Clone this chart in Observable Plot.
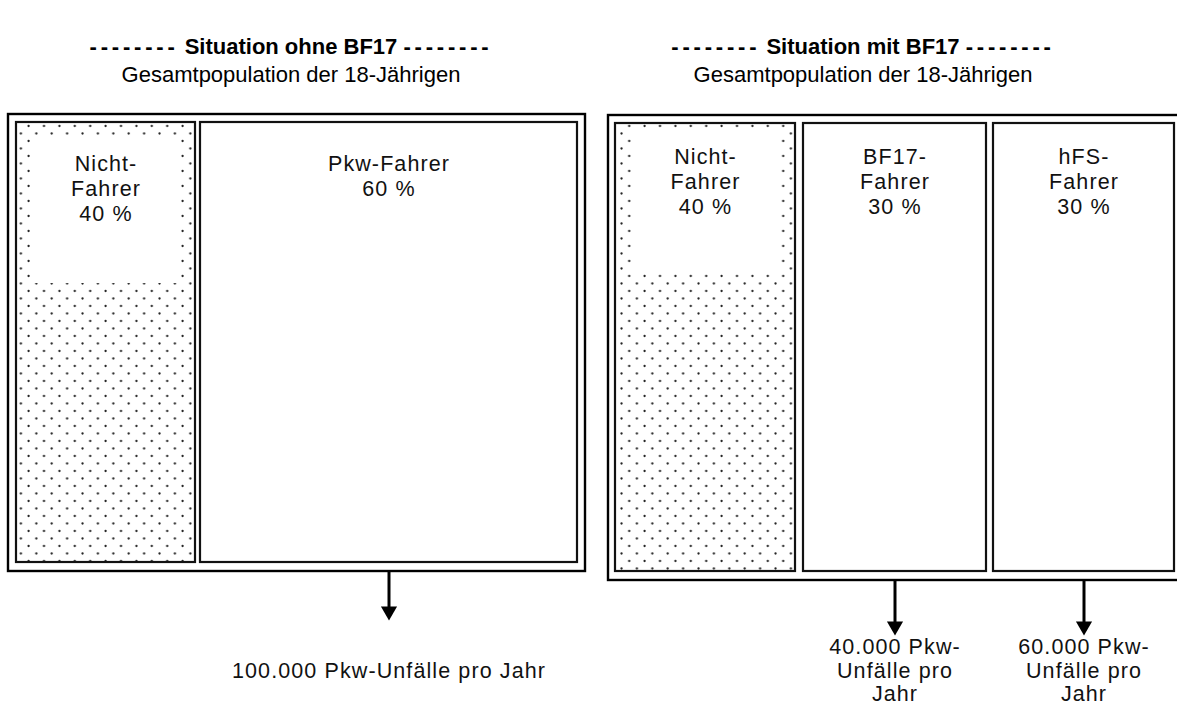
<!DOCTYPE html>
<html>
<head>
<meta charset="utf-8">
<script src="https://cdn.jsdelivr.net/npm/d3@7"></script>
<script src="https://cdn.jsdelivr.net/npm/@observablehq/plot@0.6"></script>
<style>
  html, body { margin: 0; padding: 0; background: #fff; }
  body { width: 1177px; height: 705px; overflow: hidden; font-family: "Liberation Sans", Arial, sans-serif; color: #000; }
  #head { position: relative; height: 100px; }
  .t { position: absolute; width: 560px; text-align: center; line-height: 24px; white-space: nowrap; font-size: 22px; }
  .b { font-weight: bold; }
  .dash { letter-spacing: 3.8px; }
  #chart svg { display: block; }
  #chart svg text { letter-spacing: 1.1px; }
</style>
</head>
<body>
<div id="head"></div>
<div id="chart"></div>
<script>
// ---- data ----
const panelTitles = ["Situation ohne BF17", "Situation mit BF17"];
const panelSubtitle = "Gesamtpopulation der 18-Jährigen";
const groupPanel = [0, 0, 1, 1, 1];
const groupNames = ["Nicht-\nFahrer", "Pkw-Fahrer", "Nicht-\nFahrer", "BF17-\nFahrer", "hFS-\nFahrer"];
const groupShares = [40, 60, 40, 30, 30];
const groupIsDriver = [false, true, false, true, true];
const accidentGroups = [1, 3, 4];            // index of group producing accidents
const accidentCounts = [100000, 40000, 60000];
const accidentLabelBreaks = [false, true, true];

// ---- layout (page pixel units, mapped by the plot's identity scales) ----
const panelCenter = [291, 863];
const outerBox = [{x1: 8, x2: 585, y1: 114, y2: 571}, {x1: 608, x2: 1182, y1: 115, y2: 580}];
const innerX = [[16, 195], [200, 577], [615, 795], [803, 986], [993, 1174]];
const innerY = [[122, 562], [122, 562], [123, 571], [123, 571], [123, 571]];
const clearBox = [{x1: 30, x2: 181, y1: 138, y2: 283}, null, {x1: 631, x2: 779, y1: 130, y2: 273}];
const labelTop = [152.5, 152.5, 146, 146, 146];
const arrowTip = [620, 635, 635];
const accLabelTop = [661, 637, 637];

const de = d3.formatLocale({decimal: ",", thousands: ".", grouping: [3], currency: ["", " €"]});
const fmt = de.format(",d");

// header
const head = document.getElementById("head");
panelTitles.forEach((t, i) => {
  const d1 = document.createElement("div");
  d1.className = "t b";
  d1.style.left = (panelCenter[i] - 280) + "px";
  d1.style.top = "35px";
  const s1 = document.createElement("span"); s1.className = "dash"; s1.textContent = "--------";
  const s2 = document.createElement("span"); s2.textContent = " " + t + " ";
  const s3 = document.createElement("span"); s3.className = "dash"; s3.textContent = "--------";
  d1.append(s1, s2, s3);
  head.appendChild(d1);
  const d2 = document.createElement("div");
  d2.className = "t";
  d2.style.left = (panelCenter[i] - 280) + "px";
  d2.style.top = "63px";
  d2.textContent = panelSubtitle;
  head.appendChild(d2);
});

const groups = groupNames.map((n, i) => ({
  name: n, share: groupShares[i], driver: groupIsDriver[i], panel: groupPanel[i],
  x1: innerX[i][0], x2: innerX[i][1], y1: innerY[i][0], y2: innerY[i][1],
  cx: (innerX[i][0] + innerX[i][1]) / 2, ty: labelTop[i],
  label: n + "\n" + groupShares[i] + " %"
}));
const clears = clearBox.filter(d => d);
const acc = accidentCounts.map((c, k) => {
  const g = groups[accidentGroups[k]];
  const base = outerBox[g.panel].y2 + 1;
  return {
    x: g.cx, y1: base, y2: arrowTip[k] - 11, tip: arrowTip[k], ly: accLabelTop[k],
    label: accidentLabelBreaks[k]
      ? fmt(c) + " Pkw-\nUnfälle pro\nJahr"
      : fmt(c) + " Pkw-Unfälle pro Jahr"
  };
});

const chart = Plot.plot({
  width: 1177, height: 605,
  margin: 0,
  x: {type: "linear", domain: [0, 1177], range: [0, 1177], axis: null},
  y: {type: "linear", domain: [100, 705], range: [0, 605], axis: null},
  style: {fontFamily: "'Liberation Sans', Arial, sans-serif", background: "#fff", overflow: "visible"},
  marks: [
    Plot.rect(outerBox, {x1: "x1", x2: "x2", y1: "y1", y2: "y2", fill: "white", stroke: "#000", strokeWidth: 2.4}),
    Plot.rect(groups, {x1: "x1", x2: "x2", y1: "y1", y2: "y2",
      fill: d => d.driver ? "white" : "url(#stipple)", stroke: "#111", strokeWidth: 2.2}),
    Plot.rect(clears, {x1: "x1", x2: "x2", y1: "y1", y2: "y2", fill: "white"}),
    Plot.text(groups, {x: "cx", y: "ty", text: "label", lineAnchor: "top", lineHeight: 1.163,
      fontSize: 21.5, fill: "#111", textAnchor: "middle"}),
    Plot.ruleX(acc, {x: "x", y1: "y1", y2: "y2", stroke: "#000", strokeWidth: 3}),
    Plot.dot(acc, {x: "x", y: d => d.tip - 9.3, symbol: "triangle", rotate: 180, r: 6, fill: "#000", stroke: "none"}),
    Plot.text(acc, {x: "x", y: "ly", text: "label", lineAnchor: "top", lineHeight: 1.093,
      fontSize: 21.5, fill: "#111", textAnchor: "middle"})
  ]
});

// stipple pattern definition
const ns = "http://www.w3.org/2000/svg";
const defs = document.createElementNS(ns, "defs");
const pat = document.createElementNS(ns, "pattern");
pat.setAttribute("id", "stipple");
pat.setAttribute("patternUnits", "userSpaceOnUse");
pat.setAttribute("width", "15.4");
pat.setAttribute("height", "15");
pat.setAttribute("x", "4");
pat.setAttribute("y", "2");
[[1.5, 1.5], [9.2, 9]].forEach(([cx, cy]) => {
  const c = document.createElementNS(ns, "circle");
  c.setAttribute("cx", cx); c.setAttribute("cy", cy); c.setAttribute("r", "1.15");
  c.setAttribute("fill", "#222");
  pat.appendChild(c);
});
defs.appendChild(pat);
chart.insertBefore(defs, chart.firstChild);
document.getElementById("chart").appendChild(chart);
</script>
</body>
</html>
